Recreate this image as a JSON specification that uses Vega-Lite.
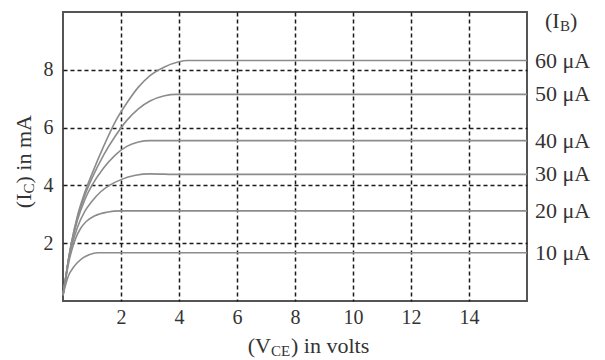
{
  "$schema": "https://vega.github.io/schema/vega-lite/v6.json",
  "width": 464,
  "height": 289,
  "autosize": "none",
  "padding": {"left": 63, "top": 12, "right": 78, "bottom": 59},
  "config": {
    "view": {"stroke": "#555555", "strokeWidth": 2},
    "font": "Liberation Serif"
  },
  "datasets": {
    "one": [{}],
    "curves": [
      {"IB": 10, "V": 0, "I": 0.2}, {"IB": 10, "V": 0.1, "I": 0.6}, {"IB": 10, "V": 0.2, "I": 0.9}, {"IB": 10, "V": 0.35, "I": 1.15}, {"IB": 10, "V": 0.5, "I": 1.33}, {"IB": 10, "V": 0.7, "I": 1.5}, {"IB": 10, "V": 0.9, "I": 1.6}, {"IB": 10, "V": 1.2, "I": 1.67}, {"IB": 10, "V": 16, "I": 1.67},
      {"IB": 20, "V": 0, "I": 0.2}, {"IB": 20, "V": 0.1, "I": 0.8}, {"IB": 20, "V": 0.2, "I": 1.35}, {"IB": 20, "V": 0.3, "I": 1.75}, {"IB": 20, "V": 0.45, "I": 2.2}, {"IB": 20, "V": 0.6, "I": 2.5}, {"IB": 20, "V": 0.8, "I": 2.75}, {"IB": 20, "V": 1.1, "I": 2.95}, {"IB": 20, "V": 1.5, "I": 3.07}, {"IB": 20, "V": 2.0, "I": 3.12}, {"IB": 20, "V": 16, "I": 3.12},
      {"IB": 30, "V": 0, "I": 0.2}, {"IB": 30, "V": 0.1, "I": 0.85}, {"IB": 30, "V": 0.2, "I": 1.45}, {"IB": 30, "V": 0.3, "I": 1.9}, {"IB": 30, "V": 0.5, "I": 2.55}, {"IB": 30, "V": 0.75, "I": 3.1}, {"IB": 30, "V": 1.0, "I": 3.45}, {"IB": 30, "V": 1.3, "I": 3.78}, {"IB": 30, "V": 1.6, "I": 4.0}, {"IB": 30, "V": 2.0, "I": 4.2}, {"IB": 30, "V": 2.5, "I": 4.35}, {"IB": 30, "V": 3.0, "I": 4.4}, {"IB": 30, "V": 4.0, "I": 4.38}, {"IB": 30, "V": 16, "I": 4.38},
      {"IB": 40, "V": 0, "I": 0.2}, {"IB": 40, "V": 0.1, "I": 0.85}, {"IB": 40, "V": 0.2, "I": 1.5}, {"IB": 40, "V": 0.3, "I": 2.0}, {"IB": 40, "V": 0.5, "I": 2.8}, {"IB": 40, "V": 0.75, "I": 3.5}, {"IB": 40, "V": 1.0, "I": 4.0}, {"IB": 40, "V": 1.4, "I": 4.6}, {"IB": 40, "V": 1.8, "I": 5.05}, {"IB": 40, "V": 2.2, "I": 5.35}, {"IB": 40, "V": 2.6, "I": 5.5}, {"IB": 40, "V": 3.0, "I": 5.55}, {"IB": 40, "V": 16, "I": 5.55},
      {"IB": 50, "V": 0, "I": 0.2}, {"IB": 50, "V": 0.1, "I": 0.85}, {"IB": 50, "V": 0.2, "I": 1.5}, {"IB": 50, "V": 0.3, "I": 2.05}, {"IB": 50, "V": 0.5, "I": 2.9}, {"IB": 50, "V": 0.75, "I": 3.65}, {"IB": 50, "V": 1.0, "I": 4.25}, {"IB": 50, "V": 1.4, "I": 5.05}, {"IB": 50, "V": 1.8, "I": 5.7}, {"IB": 50, "V": 2.2, "I": 6.25}, {"IB": 50, "V": 2.6, "I": 6.65}, {"IB": 50, "V": 3.0, "I": 6.92}, {"IB": 50, "V": 3.5, "I": 7.1}, {"IB": 50, "V": 3.9, "I": 7.15}, {"IB": 50, "V": 16, "I": 7.15},
      {"IB": 60, "V": 0, "I": 0.2}, {"IB": 60, "V": 0.1, "I": 0.85}, {"IB": 60, "V": 0.2, "I": 1.5}, {"IB": 60, "V": 0.3, "I": 2.05}, {"IB": 60, "V": 0.5, "I": 2.95}, {"IB": 60, "V": 0.75, "I": 3.75}, {"IB": 60, "V": 1.0, "I": 4.4}, {"IB": 60, "V": 1.4, "I": 5.35}, {"IB": 60, "V": 1.8, "I": 6.2}, {"IB": 60, "V": 2.2, "I": 6.85}, {"IB": 60, "V": 2.6, "I": 7.4}, {"IB": 60, "V": 3.0, "I": 7.8}, {"IB": 60, "V": 3.5, "I": 8.1}, {"IB": 60, "V": 4.0, "I": 8.28}, {"IB": 60, "V": 4.3, "I": 8.32}, {"IB": 60, "V": 16, "I": 8.32}
    ],
    "labels": [
      {"label": "10 μA", "V": 16, "I": 1.67},
      {"label": "20 μA", "V": 16, "I": 3.12},
      {"label": "30 μA", "V": 16, "I": 4.38},
      {"label": "40 μA", "V": 16, "I": 5.55},
      {"label": "50 μA", "V": 16, "I": 7.15},
      {"label": "60 μA", "V": 16, "I": 8.32}
    ]
  },
  "layer": [
    {
      "data": {"name": "curves"},
      "mark": {"type": "line", "interpolate": "monotone", "color": "#8c8c8c", "strokeWidth": 1.6},
      "encoding": {
        "x": {
          "field": "V", "type": "quantitative",
          "scale": {"domain": [0, 16], "nice": false, "zero": false},
          "axis": {
            "values": [2, 4, 6, 8, 10, 12, 14], "grid": true, "gridDash": [4, 3], "gridColor": "#1a1a1a", "gridWidth": 1.5,
            "domain": false, "ticks": false, "labelPadding": 6, "labelFontSize": 20, "labelFont": "Liberation Serif",
            "labelColor": "#333333", "title": null
          }
        },
        "y": {
          "field": "I", "type": "quantitative",
          "scale": {"domain": [0, 10], "nice": false, "zero": false},
          "axis": {
            "values": [2, 4, 6, 8], "grid": true, "gridDash": [4, 3], "gridColor": "#1a1a1a", "gridWidth": 1.5,
            "domain": false, "ticks": false, "labelPadding": 10, "labelFontSize": 20, "labelFont": "Liberation Serif",
            "labelColor": "#333333", "title": null
          }
        },
        "detail": {"field": "IB", "type": "nominal"}
      }
    },
    {
      "data": {"name": "labels"},
      "mark": {"type": "text", "align": "left", "baseline": "middle", "dx": 8, "fontSize": 22, "font": "Liberation Serif", "color": "#333333"},
      "encoding": {
        "x": {"field": "V", "type": "quantitative"},
        "y": {"field": "I", "type": "quantitative"},
        "text": {"field": "label"}
      }
    },
    {
      "data": {"name": "one"},
      "mark": {"type": "text", "align": "left", "baseline": "middle", "dx": 18, "dy": 9, "fontSize": 22, "font": "Liberation Serif", "color": "#333333", "text": "(I"},
      "encoding": {"x": {"datum": 16}, "y": {"datum": 10}}
    },
    {
      "data": {"name": "one"},
      "mark": {"type": "text", "align": "left", "baseline": "middle", "dx": 33, "dy": 14, "fontSize": 15, "font": "Liberation Serif", "color": "#333333", "text": "B"},
      "encoding": {"x": {"datum": 16}, "y": {"datum": 10}}
    },
    {
      "data": {"name": "one"},
      "mark": {"type": "text", "align": "left", "baseline": "middle", "dx": 43, "dy": 9, "fontSize": 22, "font": "Liberation Serif", "color": "#333333", "text": ")"},
      "encoding": {"x": {"datum": 16}, "y": {"datum": 10}}
    },
    {
      "data": {"name": "one"},
      "mark": {"type": "text", "align": "right", "baseline": "middle", "dx": -24, "dy": 45, "fontSize": 22, "font": "Liberation Serif", "color": "#333333", "text": "(V"},
      "encoding": {"x": {"datum": 8}, "y": {"datum": 0}}
    },
    {
      "data": {"name": "one"},
      "mark": {"type": "text", "align": "left", "baseline": "middle", "dx": -24, "dy": 50, "fontSize": 15, "font": "Liberation Serif", "color": "#333333", "text": "CE"},
      "encoding": {"x": {"datum": 8}, "y": {"datum": 0}}
    },
    {
      "data": {"name": "one"},
      "mark": {"type": "text", "align": "left", "baseline": "middle", "dx": -4, "dy": 45, "fontSize": 22, "font": "Liberation Serif", "color": "#333333", "text": ") in volts"},
      "encoding": {"x": {"datum": 8}, "y": {"datum": 0}}
    },
    {
      "data": {"name": "one"},
      "mark": {"type": "text", "align": "right", "baseline": "middle", "angle": 270, "dx": -37, "dy": -39, "fontSize": 22, "font": "Liberation Serif", "color": "#333333", "text": "(I"},
      "encoding": {"x": {"datum": 0}, "y": {"datum": 5}}
    },
    {
      "data": {"name": "one"},
      "mark": {"type": "text", "align": "left", "baseline": "middle", "angle": 270, "dx": -37, "dy": -34, "fontSize": 15, "font": "Liberation Serif", "color": "#333333", "text": "C"},
      "encoding": {"x": {"datum": 0}, "y": {"datum": 5}}
    },
    {
      "data": {"name": "one"},
      "mark": {"type": "text", "align": "left", "baseline": "middle", "angle": 270, "dx": -27, "dy": -39, "fontSize": 22, "font": "Liberation Serif", "color": "#333333", "text": ") in mA"},
      "encoding": {"x": {"datum": 0}, "y": {"datum": 5}}
    }
  ]
}
